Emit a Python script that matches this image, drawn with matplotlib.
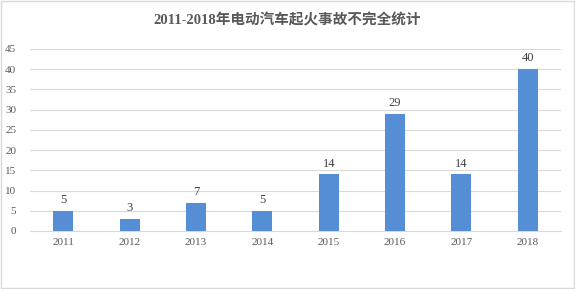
import matplotlib
matplotlib.use('Agg')
import matplotlib.pyplot as plt
from matplotlib.patches import Rectangle

years = ['2011', '2012', '2013', '2014', '2015', '2016', '2017', '2018']
fires = [5, 3, 7, 5, 14, 29, 14, 40]
title = '2011-2018年电动汽车起火事故不完全统计'

fonts = ['Liberation Serif', 'Noto Sans CJK SC']
grey = '#595959'

fig = plt.figure(figsize=(5.75, 2.89), dpi=100)
ax = fig.add_axes([30 / 575, 58 / 289, 531 / 575, 182 / 289])

x = range(len(years))
bars = ax.bar(x, fires, width=0.3, color='#558ed5', zorder=3)
for xi, v in zip(x, fires):
    ax.text(xi, v + 1.2, str(v), ha='center', va='bottom', fontsize=9,
            family=fonts, color='#404040')

ax.set_xlim(-0.5, len(years) - 0.5)
ax.set_ylim(0, 45)
ax.set_yticks(range(0, 46, 5))
ax.set_xticks(list(x))
ax.set_xticklabels(years)
ax.grid(axis='y', color='#d9d9d9', linewidth=0.8, zorder=0)
for s in ['top', 'right', 'left']:
    ax.spines[s].set_visible(False)
ax.spines['bottom'].set_color('#d9d9d9')
ax.tick_params(length=0, labelsize=8, colors=grey, pad=5)
ax.tick_params(axis='y', pad=10)
for lab in ax.get_xticklabels() + ax.get_yticklabels():
    lab.set_family(fonts)

fig.text(0.5, 1 - 20 / 289, title, ha='center', va='center', fontsize=10.5,
         fontweight='bold', family=fonts, color=grey)

fig.patches.append(Rectangle((0.002, 0.003), 0.996, 0.994, transform=fig.transFigure,
                             fill=False, edgecolor='#d9d9d9', linewidth=1))

fig.savefig('out.png', dpi=100)
